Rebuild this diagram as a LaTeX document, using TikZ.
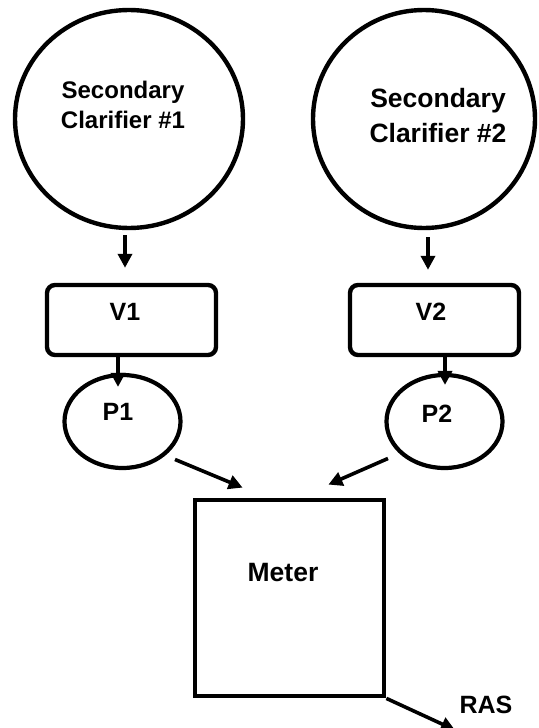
\documentclass[tikz,border=0pt]{standalone}
\usepackage{fontspec}
\setmainfont{Liberation Sans}
\usetikzlibrary{shapes.geometric, arrows.meta}

\begin{document}
\begin{tikzpicture}[x=1pt, y=-1pt,
    tank/.style={draw, ellipse, line width=4.4pt, inner sep=0pt},
    valve/.style={draw, rectangle, rounded corners=8pt, line width=4.4pt,
        minimum width=169pt, minimum height=70pt},
    pump/.style={draw, ellipse, line width=4.2pt, inner sep=0pt,
        minimum width=116pt, minimum height=93pt},
    meterbox/.style={draw, rectangle, line width=4.8pt,
        minimum width=189pt, minimum height=196pt},
    lbl/.style={font=\bfseries\fontsize{25}{30}\selectfont, align=center, inner sep=0pt},
    flow/.style={line width=3.6pt, -{Triangle[length=14pt, width=14pt]}}]
    \useasboundingbox (0,0) rectangle (538,728);

    % shapes
    \node[tank, minimum width=228pt, minimum height=218pt] (c1) at (129,119) {};
    \node[tank, minimum width=222pt, minimum height=218pt] (c2) at (424,119) {};
    \node[valve] (v1) at (131.5,320) {};
    \node[valve] (v2) at (434.5,320) {};
    \node[pump] (p1) at (122.5,421.5) {};
    \node[pump] (p2) at (444.5,421.5) {};
    \node[meterbox] (meter) at (289.5,598) {};

    % texts
    \node[lbl, font=\bfseries\fontsize{24}{30}\selectfont] (c1txt) at (123,105)
        {Secondary\\Clarifier \#1};
    \node[lbl, font=\bfseries\fontsize{26.5}{35}\selectfont] (c2txt) at (438,116)
        {Secondary\\Clarifier \#2};
    \node[lbl] (v1txt) at (125,311.5) {V1};
    \node[lbl] (v2txt) at (431,312) {V2};
    \node[lbl] (p1txt) at (118,411.5) {P1};
    \node[lbl] (p2txt) at (437,414) {P2};
    \node[lbl, font=\bfseries\fontsize{26.5}{30}\selectfont] (metertxt) at (283,573) {Meter};
    \node[lbl] (ras) at (486,705) {RAS};
    \coordinate (rasout) at (455,730);

    % flows
    \draw[flow] ([shift={(-4,5)}]c1.south) -- ([shift={(-6.5,-15)}]v1.north);
    \draw[flow] ([shift={(4,7)}]c2.south) -- ([shift={(-6.5,-13)}]v2.north);
    \draw[flow] ([xshift=-13.5pt]v1.south) -- ([shift={(-4.5,14)}]p1.north);
    \draw[flow] ([xshift=10.5pt]v2.south) -- ([shift={(0.5,12)}]p2.north);
    \draw[flow] ([shift={(10,3.6)}]p1.south east) -- ([shift={(50,-10)}]meter.north west);
    \draw[flow] ([shift={(-14,2.6)}]p2.south west) -- ([shift={(-58,-13)}]meter.north east);
    \draw[flow] (meter.south east) -- (rasout);
\end{tikzpicture}
\end{document}
